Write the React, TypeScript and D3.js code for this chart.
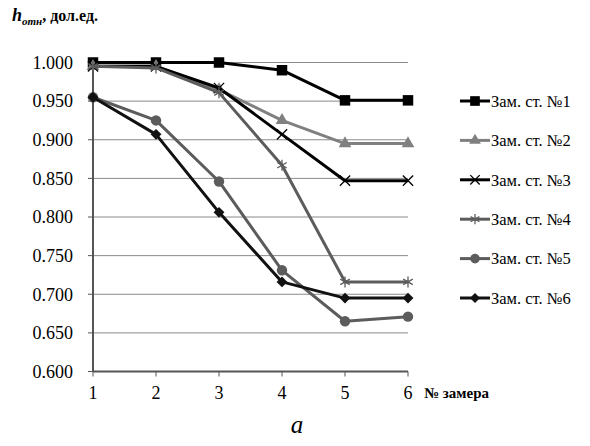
import React from 'react';
import * as d3 from 'd3';

const measures = [1, 2, 3, 4, 5, 6];
const yTicks = [0.6, 0.65, 0.7, 0.75, 0.8, 0.85, 0.9, 0.95, 1.0];

const seriesNames = ['Зам. ст. №1', 'Зам. ст. №2', 'Зам. ст. №3', 'Зам. ст. №4', 'Зам. ст. №5', 'Зам. ст. №6'];
const s1 = [1.0, 1.0, 1.0, 0.99, 0.951, 0.951];
const s2 = [0.995, 0.995, 0.965, 0.925, 0.895, 0.895];
const s3 = [0.995, 0.995, 0.967, 0.907, 0.847, 0.847];
const s4 = [0.995, 0.993, 0.961, 0.867, 0.716, 0.716];
const s5 = [0.955, 0.925, 0.846, 0.731, 0.665, 0.671];
const s6 = [0.955, 0.907, 0.806, 0.716, 0.695, 0.695];
const allValues = [s1, s2, s3, s4, s5, s6];

// marker style per series
const styles = [
  { color: '#000000', symbol: d3.symbolSquare, size: 110, stroked: false },
  { color: '#808080', symbol: d3.symbolTriangle, size: 70, stroked: false },
  { color: '#000000', symbol: d3.symbolX, size: 70, stroked: true },
  { color: '#5c5c5c', symbol: d3.symbolAsterisk, size: 85, stroked: true },
  { color: '#5c5c5c', symbol: d3.symbolCircle, size: 85, stroked: false },
  { color: '#111111', symbol: d3.symbolDiamond2, size: 75, stroked: false },
];

const txt = { fontFamily: 'Liberation Serif' };

export default function App() {
  const x = d3.scaleLinear().domain([1, 6]).range([93, 408]);
  const y = d3.scaleLinear().domain([0.6, 1.0]).range([371.5, 62.5]);

  const line = d3
    .line<number>()
    .x((_, i) => x(measures[i]))
    .y((d) => y(d));

  const legendX = 460;
  const legendY0 = 101;
  const legendStep = 39.4;

  return (
    <svg
      width={590}
      height={446}
      style={{ position: 'absolute', left: 0, top: 0, display: 'block', background: '#fff' }}
    >
      {/* gridlines */}
      {yTicks.map((t) => (
        <line key={'g' + t} x1={x(1)} x2={x(6)} y1={y(t)} y2={y(t)} stroke="#8a8a8a" strokeWidth={1} />
      ))}
      {/* axes */}
      <line x1={x(1)} x2={x(1)} y1={y(1.0)} y2={y(0.6)} stroke="#555" strokeWidth={2} />
      <line x1={x(1)} x2={x(6)} y1={y(0.6)} y2={y(0.6)} stroke="#555" strokeWidth={2} />
      {yTicks.map((t) => (
        <line key={'yt' + t} x1={x(1) - 5} x2={x(1)} y1={y(t)} y2={y(t)} stroke="#555" strokeWidth={1} />
      ))}
      {measures.map((m) => (
        <line key={'xt' + m} x1={x(m)} x2={x(m)} y1={y(0.6)} y2={y(0.6) + 5} stroke="#555" strokeWidth={1} />
      ))}
      {yTicks.map((t) => (
        <text key={'yl' + t} style={txt} x={73} y={y(t)} dy="0.35em" textAnchor="end" fontSize={18} fill="#000">
          {d3.format('.3f')(t)}
        </text>
      ))}
      {measures.map((m) => (
        <text key={'xl' + m} style={txt} x={x(m)} y={399} textAnchor="middle" fontSize={18} fill="#000">
          {m}
        </text>
      ))}
      <text style={txt} x={424} y={398} fontSize={15} fontWeight="bold" fill="#000">
        № замера
      </text>
      <text style={txt} x={12} y={21} fontSize={16} fontWeight="bold" fill="#000">
        <tspan fontStyle="italic" fontSize={18}>h</tspan>
        <tspan fontStyle="italic" fontSize={11} dy={4}>отн</tspan>
        <tspan dy={-4}>, дол.ед.</tspan>
      </text>
      <text style={txt} x={297} y={433} textAnchor="middle" fontSize={25} fontStyle="italic" fill="#000">
        a
      </text>

      {/* series lines and markers */}
      {allValues.map((vals, si) => {
        const st = styles[si];
        const path = d3.symbol().type(st.symbol).size(st.size)() as string;
        return (
          <g key={'s' + si}>
            <path d={line(vals) as string} fill="none" stroke={st.color} strokeWidth={3} strokeLinejoin="round" />
            {vals.map((v, i) => (
              <path
                key={i}
                d={path}
                transform={`translate(${x(measures[i])},${y(v)})`}
                fill={st.stroked ? 'none' : st.color}
                stroke={st.color}
                strokeWidth={st.stroked ? 1.3 : 0}
              />
            ))}
          </g>
        );
      })}

      {/* legend */}
      {seriesNames.map((name, si) => {
        const st = styles[si];
        const path = d3.symbol().type(st.symbol).size(st.size * 0.85)() as string;
        const ly = legendY0 + si * legendStep;
        return (
          <g key={'l' + si}>
            <line x1={legendX} x2={legendX + 30} y1={ly} y2={ly} stroke={st.color} strokeWidth={3} />
            <path
              d={path}
              transform={`translate(${legendX + 15},${ly})`}
              fill={st.stroked ? 'none' : st.color}
              stroke={st.color}
              strokeWidth={st.stroked ? 1.3 : 0}
            />
            <text style={txt} x={legendX + 31} y={ly} dy="0.35em" fontSize={16.5} fill="#000">
              {name}
            </text>
          </g>
        );
      })}
    </svg>
  );
}
